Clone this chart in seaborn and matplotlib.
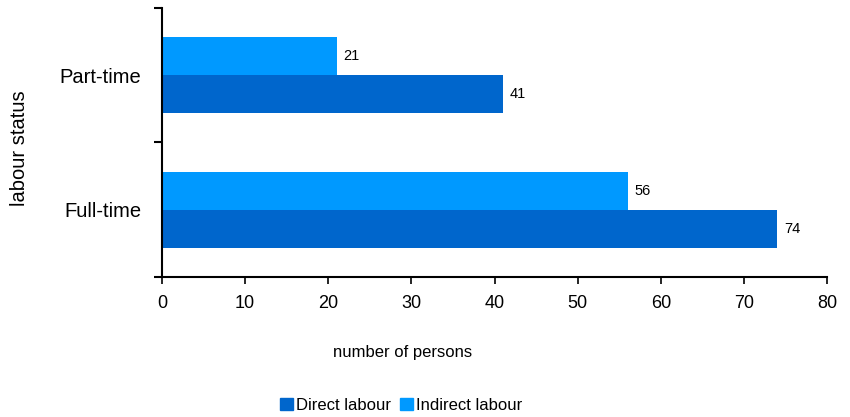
import numpy as np
import pandas as pd
import matplotlib
matplotlib.use('Agg')
import matplotlib.pyplot as plt
import seaborn as sns
from matplotlib.patches import Patch

# data
status = ['Part-time', 'Full-time']
direct_labour = [41, 74]
indirect_labour = [21, 56]

df = pd.DataFrame({
    'status': status * 2,
    'persons': indirect_labour + direct_labour,
    'labour': ['Indirect labour'] * 2 + ['Direct labour'] * 2,
})

sns.set_style('white')
plt.rcParams['font.family'] = ['Liberation Sans', 'DejaVu Sans']
plt.rcParams['text.color'] = 'black'
plt.rcParams['axes.labelcolor'] = 'black'
plt.rcParams['xtick.color'] = 'black'
plt.rcParams['ytick.color'] = 'black'

colors = {'Direct labour': '#0066CC', 'Indirect labour': '#0099FF'}

fig, ax = plt.subplots(figsize=(8.5, 4.17), dpi=100)
fig.subplots_adjust(left=0.1906, right=0.973, top=0.981, bottom=0.336)

sns.barplot(data=df, x='persons', y='status', hue='labour',
            hue_order=['Indirect labour', 'Direct labour'],
            order=status, palette=colors, width=0.565,
            saturation=1, orient='h', ax=ax, legend=False,
            linewidth=0, edgecolor='none')

# value labels
for cont in ax.containers:
    ax.bar_label(cont, fmt='%d', padding=5, fontsize=10.5, color='black')

ax.set_xlim(0, 80)
ax.set_xticks(np.arange(0, 81, 10))
ax.set_ylim(1.5, -0.5)

# category labels centred, tick marks on the boundaries
ax.set_yticks([0, 1])
ax.set_yticklabels(status, fontsize=14.5)
ax.tick_params(axis='y', which='major', length=0, pad=15)
ax.set_yticks([-0.5, 0.5, 1.5], minor=True)
ax.tick_params(axis='y', which='minor', left=True, length=6, width=1.5, color='black')
ax.tick_params(axis='x', bottom=True, length=5, width=1.2, color='black',
               labelsize=13, pad=8)

for side in ['top', 'right']:
    ax.spines[side].set_visible(False)
for side in ['left', 'bottom']:
    ax.spines[side].set_color('black')
    ax.spines[side].set_linewidth(1.5)

ax.set_xlabel('number of persons', fontsize=12)
ax.xaxis.set_label_coords(0.361, -0.255)
ax.set_ylabel('labour status', fontsize=14.5)
ax.yaxis.set_label_coords(-0.2, 0.48)

handles = [Patch(color=colors['Direct labour'], label='Direct labour'),
           Patch(color=colors['Indirect labour'], label='Indirect labour')]
fig.legend(handles=handles, loc='center', bbox_to_anchor=(0.472, 0.028),
           ncol=2, frameon=False, fontsize=12, handlelength=0.8,
           handleheight=0.8, handletextpad=0.2, columnspacing=0.5)

fig.savefig('out.png', dpi=100)
